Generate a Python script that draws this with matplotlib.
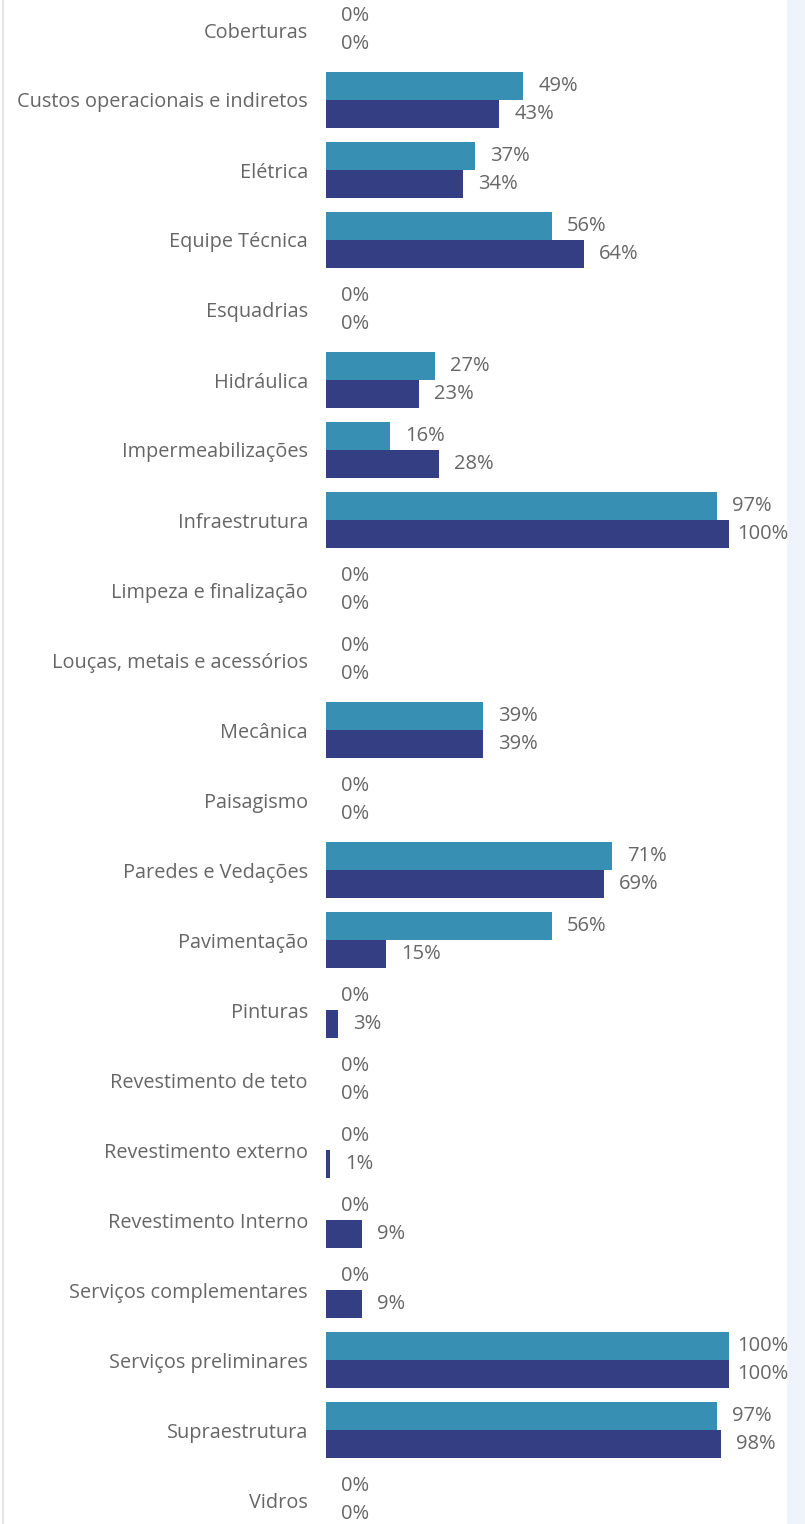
import matplotlib
matplotlib.use("Agg")
import matplotlib.pyplot as plt
import numpy as np

categories = ["Coberturas", "Custos operacionais e indiretos", "Elétrica", "Equipe Técnica",
              "Esquadrias", "Hidráulica", "Impermeabilizações", "Infraestrutura",
              "Limpeza e finalização", "Louças, metais e acessórios", "Mecânica", "Paisagismo",
              "Paredes e Vedações", "Pavimentação", "Pinturas", "Revestimento de teto",
              "Revestimento externo", "Revestimento Interno", "Serviços complementares",
              "Serviços preliminares", "Supraestrutura", "Vidros"]
series_a = [0, 49, 37, 56, 0, 27, 16, 97, 0, 0, 39, 0, 71, 56, 0, 0, 0, 0, 0, 100, 97, 0]
series_b = [0, 43, 34, 64, 0, 23, 28, 100, 0, 0, 39, 0, 69, 15, 3, 0, 1, 9, 9, 100, 98, 0]

color_a = "#388FB4"
color_b = "#343E82"
text_color = "#666666"

plt.rcParams['font.family'] = ['Open Sans', 'DejaVu Sans']

W, H = 805, 1524
fig = plt.figure(figsize=(W / 100, H / 100), dpi=100)
fig.patch.set_facecolor("white")

# faint decorative background strip on the right and border line on the left
bg = fig.add_axes([0, 0, 1, 1], zorder=-1)
bg.set_xlim(0, W)
bg.set_ylim(H, 0)
bg.axis("off")
bg.add_patch(plt.Rectangle((787, 0), 18, H, color="#EEF4F9", lw=0))
bg.plot([3, 3], [0, H], color="#E6E6E6", lw=1.5)

left = 326 / W
ax = fig.add_axes([left, 0, 1 - left - 18 / W, 1])
ax.patch.set_alpha(0)
px_per_unit = 4.03
ax.set_xlim(0, (W - 18 - 326) / px_per_unit)
row = 70.0
ax.set_ylim((H - 30) / row, -30 / row)

n = len(categories)
y = np.arange(n)
h = 0.4
ax.barh(y - h / 2, series_a, height=h, color=color_a)
ax.barh(y + h / 2, series_b, height=h, color=color_b)

off = 15 / px_per_unit
max_start = (737 - 326) / px_per_unit   # labels are kept inside the plot area
fs_val = 14.5
for i in range(n):
    ax.text(min(series_a[i] + off, max_start), y[i] - h / 2, f"{series_a[i]}%",
            va="center", ha="left", fontsize=fs_val, color=text_color)
    ax.text(min(series_b[i] + off, max_start), y[i] + h / 2, f"{series_b[i]}%",
            va="center", ha="left", fontsize=fs_val, color=text_color)

ax.set_yticks(y)
ax.set_yticklabels(categories, fontsize=14.3, color=text_color)
ax.tick_params(axis="y", length=0, pad=13)
ax.set_xticks([])
for s in ax.spines.values():
    s.set_visible(False)

fig.savefig("out.png", dpi=100, facecolor="white")
